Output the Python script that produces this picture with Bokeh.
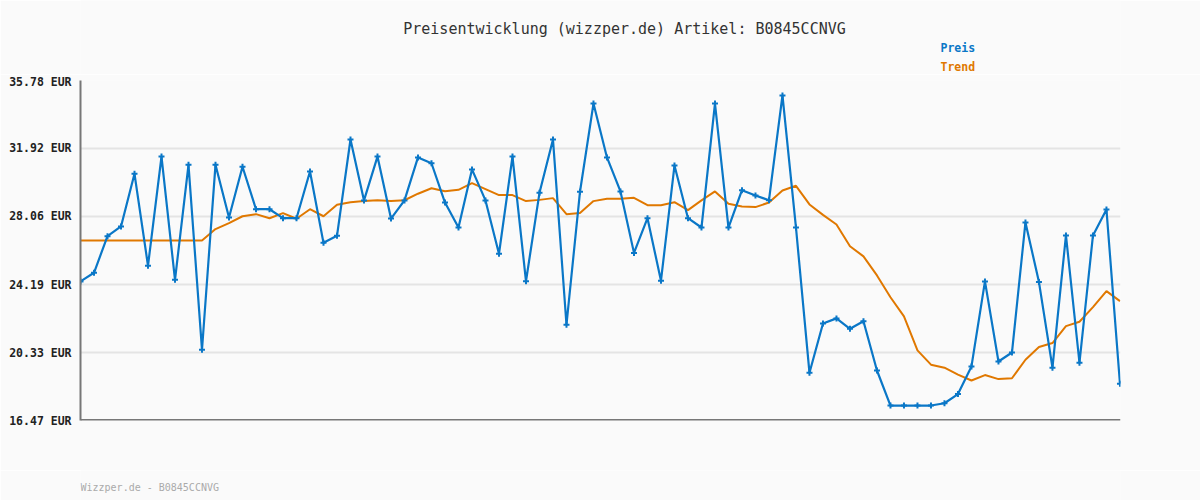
from bokeh.plotting import figure
from bokeh.layouts import column
from bokeh.models import Range1d, FixedTicker, CustomJSTickFormatter, Label
from bokeh.embed import file_html
from bokeh.resources import INLINE

title_text = "Preisentwicklung (wizzper.de) Artikel: B0845CCNVG"
footer_text = "Wizzper.de - B0845CCNVG"
series_names = ["Preis", "Trend"]
y_ticks = [16.47, 20.33, 24.19, 28.06, 31.92, 35.78]

preis = [24.37, 24.86, 26.94, 27.49, 30.48, 25.26, 31.46, 24.46, 30.99, 20.49,
         30.99, 28.00, 30.88, 28.47, 28.47, 27.96, 27.96, 30.61, 26.56, 26.96,
         32.43, 28.97, 31.46, 27.94, 28.97, 31.41, 31.08, 28.85, 27.43, 30.73,
         28.97, 25.94, 31.46, 24.38, 29.40, 32.43, 21.91, 29.46, 34.47, 31.41,
         29.48, 25.99, 27.96, 24.41, 30.95, 27.96, 27.43, 34.47, 27.43, 29.55,
         29.25, 28.98, 34.93, 27.43, 19.18, 21.98, 22.27, 21.68, 22.11, 19.31,
         17.32, 17.32, 17.32, 17.32, 17.45, 17.97, 19.54, 24.37, 19.82, 20.33,
         27.72, 24.33, 19.47, 26.98, 19.75, 26.98, 28.45, 18.56]

trend = [26.69, 26.69, 26.69, 26.69, 26.69, 26.69, 26.69, 26.69, 26.69, 26.69,
         27.34, 27.68, 28.07, 28.19, 27.96, 28.25, 27.93, 28.47, 28.07, 28.72,
         28.87, 28.93, 28.98, 28.93, 28.98, 29.35, 29.66, 29.49, 29.57, 29.95,
         29.61, 29.27, 29.27, 28.93, 29.00, 29.10, 28.19, 28.25, 28.93, 29.06,
         29.06, 29.12, 28.70, 28.70, 28.87, 28.42, 28.97, 29.48, 28.78, 28.62,
         28.59, 28.85, 29.53, 29.80, 28.74, 28.15, 27.60, 26.37, 25.79, 24.71,
         23.47, 22.38, 20.45, 19.64, 19.47, 19.08, 18.74, 19.05, 18.82, 18.87,
         19.92, 20.64, 20.87, 21.83, 22.08, 22.91, 23.82, 23.25]

idx = list(range(len(preis)))

BLUE = "#0a77c7"
ORANGE = "#e07800"
BG = "#fafafa"
FONT = "DejaVu Sans Mono"
W = 1200
LEFT, FW, FH = 80, 1040, 340   # frame spans page x 80..1120


def text_strip(height, top):
    """A figure used only for free text; its data units are page pixels.
    Its frame is aligned by the column to the main chart's frame (x 80..1120)."""
    f = figure(width=W, height=height, output_backend="svg", toolbar_location=None,
               x_range=Range1d(LEFT, LEFT + FW), y_range=Range1d(top + height, top),
               x_axis_location=None, y_axis_location=None,
               min_border_left=LEFT, min_border_right=W - LEFT - FW,
               min_border_top=0, min_border_bottom=0)
    f.background_fill_color = BG
    f.border_fill_color = BG
    f.outline_line_color = None
    f.xgrid.visible = False
    f.ygrid.visible = False
    return f


def lab(x, y, text, **kw):
    return Label(x=x, y=y, text=text, text_baseline="middle", text_font=FONT, **kw)


# header strip: page y 0..74
HEAD_H = 74
head = text_strip(HEAD_H, 0)
head.add_layout(lab(624, 28, title_text, text_align="center",
                    text_font_size="15px", text_color="#333333"))
head.add_layout(lab(940, 47, series_names[0], text_align="left", text_font_style="bold",
                    text_font_size="11.5px", text_color=BLUE))
head.add_layout(lab(940, 66.5, series_names[1], text_align="left", text_font_style="bold",
                    text_font_size="11.5px", text_color=ORANGE))

# main chart: frame spans page y 80..420
TOP_B, BOT_B = 80 - HEAD_H, 50
MAIN_H = TOP_B + FH + BOT_B
x0, x1 = 0, len(preis) - 1 + 0.04
y0, y1 = y_ticks[0], y_ticks[-1]

p = figure(width=W, height=MAIN_H, output_backend="svg", toolbar_location=None,
           x_range=Range1d(x0, x1), y_range=Range1d(y0, y1),
           min_border_left=LEFT, min_border_right=W - LEFT - FW,
           min_border_top=TOP_B, min_border_bottom=BOT_B)
p.background_fill_color = BG
p.border_fill_color = BG
p.outline_line_color = None

p.xaxis.visible = False
p.xgrid.visible = False
p.ygrid.ticker = FixedTicker(ticks=y_ticks)
p.ygrid.grid_line_color = "#e4e4e4"
p.ygrid.grid_line_width = 2

ya = p.yaxis[0]
ya.ticker = FixedTicker(ticks=y_ticks)
ya.formatter = CustomJSTickFormatter(code="return tick.toFixed(2) + ' EUR';")
ya.axis_line_color = "#777777"
ya.axis_line_width = 2
ya.major_tick_line_color = None
ya.minor_tick_line_color = None
ya.major_label_text_font = FONT
ya.major_label_text_font_style = "bold"
ya.major_label_text_font_size = "11.5px"
ya.major_label_text_color = "#222222"
ya.major_label_standoff = 3

# bottom axis line
p.segment(x0=[x0], y0=[y0], x1=[x1], y1=[y0], line_color="#777777", line_width=3)

p.line(idx, trend, line_color=ORANGE, line_width=2)
p.line(idx, preis, line_color=BLUE, line_width=2.2)
p.scatter(idx, preis, marker="cross", size=6, line_width=2, color=BLUE)

# footer strip
FOOT_TOP = HEAD_H + MAIN_H
foot = text_strip(500 - FOOT_TOP, FOOT_TOP)
foot.add_layout(lab(80, 487, footer_text, text_align="left",
                    text_font_size="10px", text_color="#aaaaaa"))

layout = column(head, p, foot, spacing=0)
open("out.html", "w").write(file_html(layout, INLINE))
